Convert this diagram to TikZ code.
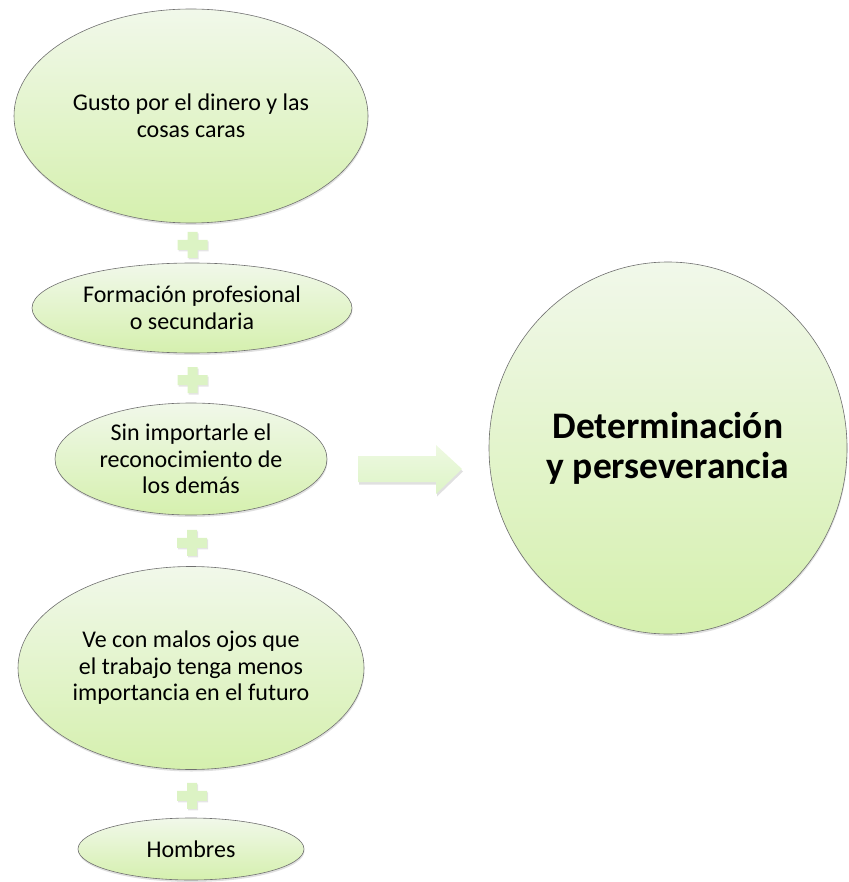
\documentclass[tikz,border=0pt]{standalone}
\usepackage{fontspec}
\setmainfont{Carlito}
\usetikzlibrary{shapes.geometric,shadows,calc}
\definecolor{gtop}{HTML}{F1F8EA}
\definecolor{gbot}{HTML}{D5F0AE}
\definecolor{edge}{HTML}{707070}
\definecolor{plusgreen}{HTML}{DCF3C4}
\definecolor{atop}{HTML}{EEF9E2}
\definecolor{abot}{HTML}{DDF4C6}
\tikzset{
  bubble/.style={ellipse, draw=edge, line width=0.6pt, top color=gtop, bottom color=gbot,
    inner sep=0pt, align=center, font=\fontsize{24}{26.5}\selectfont,
    drop shadow={shadow xshift=0.5pt, shadow yshift=-2pt, fill=black, opacity=0.12}},
  plusshape/.style={fill=plusgreen,
    drop shadow={shadow xshift=1pt, shadow yshift=-1.5pt, fill=black, opacity=0.1}},
  arrowshape/.style={top color=atop, bottom color=abot, draw=none,
    drop shadow={shadow xshift=1pt, shadow yshift=-2.5pt, fill=black, opacity=0.12}},
  pluspic/.pic={\path[plusshape] (-15,-5) -- (-5,-5) -- (-5,-13) -- (5,-13) -- (5,-5) -- (15,-5)
      -- (15,5) -- (5,5) -- (5,13) -- (-5,13) -- (-5,5) -- (-15,5) -- cycle;}
}
\begin{document}
\begin{tikzpicture}[x=1pt,y=-1pt]
\useasboundingbox (0,0) rectangle (848,882);

\node[bubble, minimum width=354, minimum height=214] (e1) at (191,116)
  {Gusto por el dinero y las\\cosas caras};
\node[bubble, minimum width=320, minimum height=90] (e2) at (192,308)
  {Formación profesional\\o secundaria};
\node[bubble, minimum width=272, minimum height=112] (e3) at (191,459)
  {Sin importarle el\\reconocimiento de\\los demás};
\node[bubble, minimum width=346, minimum height=203] (e4) at (191,668)
  {Ve con malos ojos que\\el trabajo tenga menos\\importancia en el futuro};
\node[bubble, minimum width=226, minimum height=62] (e5) at (191,849)
  {Hombres};

\node[bubble, minimum width=358, minimum height=372, font=\fontsize{37.5}{40}\selectfont\bfseries]
  (goal) at (668,448) {Determinación\\y perseverancia};

\path ($(e1.south)!0.5!(e2.north)+(1,2)$) pic {pluspic};
\path ($(e2.south)!0.5!(e3.north)+(1,2)$) pic {pluspic};
\path ($(e3.south)!0.5!(e4.north)+(1,2)$) pic {pluspic};
\path ($(e4.south)!0.5!(e5.north)+(1,2)$) pic {pluspic};

\coordinate (astart) at (358,469);
\path[arrowshape] (astart) ++(0,-13) -- (436,456) -- (436,445) -- (462,469) -- (436,494)
  -- (436,482) -- (358,482) -- cycle;
\end{tikzpicture}
\end{document}
